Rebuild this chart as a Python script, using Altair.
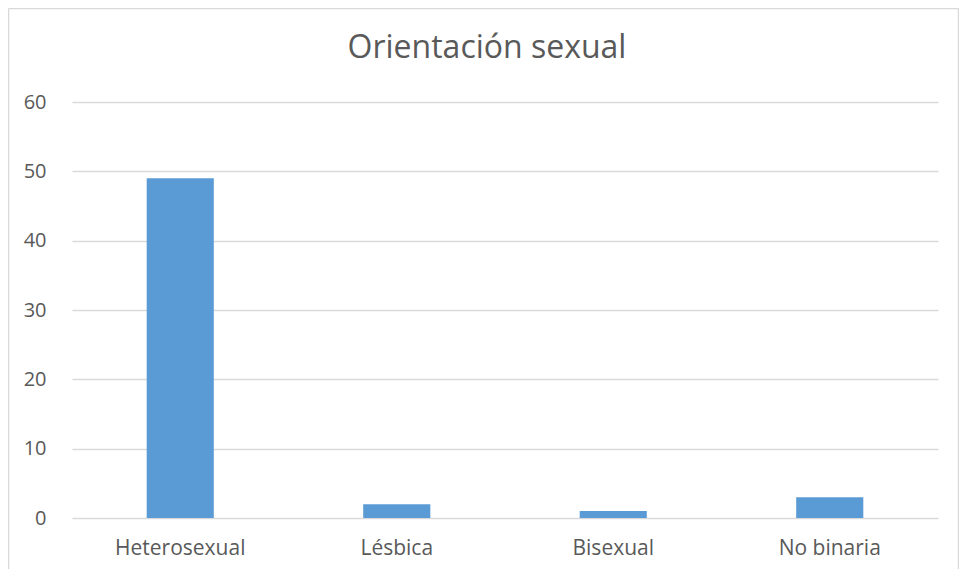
import altair as alt
import pandas as pd

categorias = ["Heterosexual", "Lésbica", "Bisexual", "No binaria"]
valores = [49, 2, 1, 3]
y_ticks = [0, 10, 20, 30, 40, 50, 60]
titulo = "Orientación sexual"

df = pd.DataFrame({"cat": categorias, "val": valores})

FONT = "Open Sans"
BORDER = "#D9D9D9"

bars = alt.Chart(df).mark_bar(color="#5B9BD5").encode(
    x=alt.X("cat:N", sort=categorias, title=None,
            scale=alt.Scale(paddingInner=0.69, paddingOuter=0.345),
            axis=alt.Axis(labelAngle=0, labelFont=FONT, labelFontSize=21,
                          labelColor="#595959", labelPadding=19, ticks=False,
                          domain=False, grid=False)),
    y=alt.Y("val:Q", title=None,
            scale=alt.Scale(domain=[0, 60], nice=False),
            axis=alt.Axis(values=y_ticks, labelFont=FONT, labelFontSize=20,
                          labelColor="#595959", labelPadding=26, ticks=False,
                          domain=False, gridColor="#D9D9D9", gridWidth=1.3)),
)

frame_src = pd.DataFrame({"k": [0]})
left_line = alt.Chart(frame_src).mark_rule(color=BORDER, strokeWidth=1.5).encode(
    x=alt.value(-63.5), y=alt.value(-93.5), y2=alt.value(470))
top_line = alt.Chart(frame_src).mark_rule(color=BORDER, strokeWidth=1.5).encode(
    x=alt.value(-63.5), x2=alt.value(886.5), y=alt.value(-93.5))
right_line = alt.Chart(frame_src).mark_rule(color=BORDER, strokeWidth=1.5).encode(
    x=alt.value(886.5), y=alt.value(-93.5), y2=alt.value(470))

title_text = alt.Chart(frame_src).mark_text(
    text=titulo, font=FONT, fontSize=32, color="#595959",
    align="center", baseline="middle").encode(
    x=alt.value(415), y=alt.value(-54))

chart = alt.layer(bars, left_line, top_line, right_line, title_text).properties(
    width=866,
    height=416,
    autosize=alt.AutoSizeParams(type="none"),
    padding={"left": 64, "top": 94, "right": 21, "bottom": 51},
).configure(background="white").configure_view(stroke=None, strokeWidth=0)

chart.save("out.html", embed_options={"renderer": "svg", "actions": False})
